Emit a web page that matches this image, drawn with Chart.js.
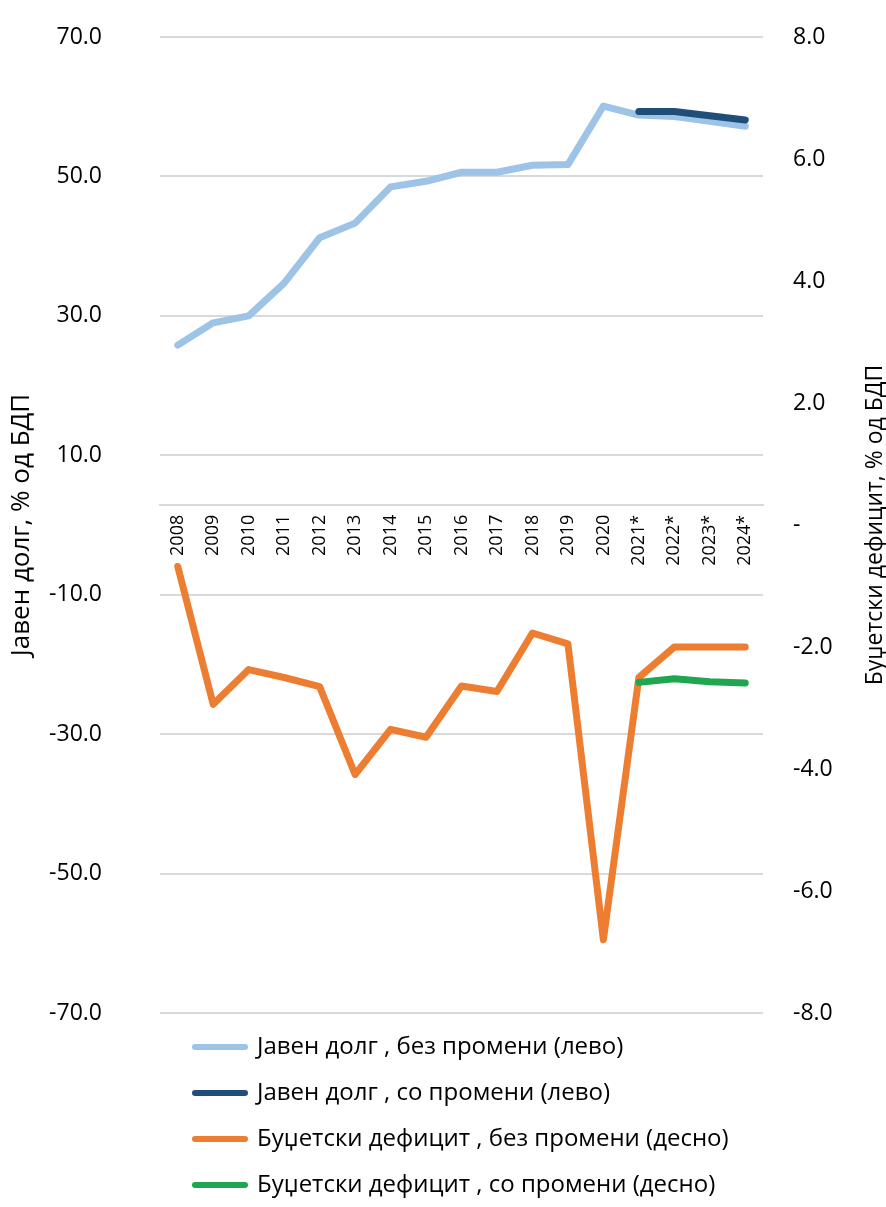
<!DOCTYPE html>
<html>
<head>
<meta charset="utf-8">
<script src="https://cdn.jsdelivr.net/npm/chart.js@4.4.1/dist/chart.umd.min.js"></script>
<style>
  html, body { margin: 0; padding: 0; background: #fff; }
  #wrap { width: 886px; height: 1207px; position: relative; }
</style>
</head>
<body>
<div id="wrap"><canvas id="debtChart"></canvas></div>
<script>
const years = ['2008', '2009', '2010', '2011', '2012', '2013', '2014', '2015', '2016',
  '2017', '2018', '2019', '2020', '2021*', '2022*', '2023*', '2024*'];

// public debt, % of GDP (left axis)
const debtNoChange = [25.8, 29.0, 30.0, 34.7, 41.2, 43.3, 48.5, 49.3, 50.6, 50.6, 51.6, 51.7, 60.1, 58.8, 58.6, 57.9, 57.2];
const debtWithChange = [null, null, null, null, null, null, null, null, null, null, null, null, null, 59.3, 59.3, 58.7, 58.1];

// budget deficit, % of GDP (right axis)
const deficitNoChange = [-0.68, -2.94, -2.37, -2.5, -2.65, -4.09, -3.35, -3.48, -2.64, -2.73, -1.77, -1.95, -6.8, -2.5, -2.0, -2.0, -2.0];
const deficitWithChange = [null, null, null, null, null, null, null, null, null, null, null, null, null, -2.58, -2.52, -2.57, -2.59];

const leftTicks = [-70, -50, -30, -10, 10, 30, 50, 70];
const rightTicks = [-8, -6, -4, -2, 0, 2, 4, 6, 8];

const FONT = "'Open Sans', 'Noto Sans', sans-serif";

// right axis title reads bottom-to-top like the left one
const rightTitle = {
  id: 'rightTitle',
  afterDraw(chart) {
    const ctx = chart.ctx;
    const area = chart.chartArea;
    ctx.save();
    ctx.translate(875, (area.top + area.bottom) / 2);
    ctx.rotate(-Math.PI / 2);
    ctx.font = '23px ' + FONT;
    ctx.fillStyle = '#000';
    ctx.textAlign = 'center';
    ctx.textBaseline = 'middle';
    ctx.fillText('Буџетски дефицит, % од БДП', 0, 0);
    ctx.restore();
  }
};

// nudge the legend a little to the right
const legendShift = {
  id: 'legendShift',
  afterLayout(chart) {
    chart.legend.left += 13;
    chart.legend.right += 13;
  }
};

// fixed axis width; the big label padding should not push the plot down
function fixAxis(width) {
  return (scale) => {
    scale.width = width;
    scale.paddingTop = 12;
    scale.paddingBottom = 12;
  };
}

const ctx = document.getElementById('debtChart').getContext('2d');
new Chart(ctx, {
  type: 'line',
  data: {
    labels: years,
    datasets: [
      {
        label: 'Јавен долг , без промени (лево)',
        data: debtNoChange,
        yAxisID: 'y',
        borderColor: '#9dc3e6',
        backgroundColor: '#9dc3e6',
        order: 4
      },
      {
        label: 'Јавен долг , со промени (лево)',
        data: debtWithChange,
        yAxisID: 'y',
        borderColor: '#1f4e79',
        backgroundColor: '#1f4e79',
        order: 3
      },
      {
        label: 'Буџетски дефицит , без промени (десно)',
        data: deficitNoChange,
        yAxisID: 'y1',
        borderColor: '#ed7d31',
        backgroundColor: '#ed7d31',
        order: 2
      },
      {
        label: 'Буџетски дефицит , со промени (десно)',
        data: deficitWithChange,
        yAxisID: 'y1',
        borderColor: '#1fa64f',
        backgroundColor: '#1fa64f',
        order: 1
      }
    ]
  },
  options: {
    responsive: true,
    maintainAspectRatio: false,
    animation: false,
    layout: { padding: { top: 37, left: 0, right: 0, bottom: 0 } },
    elements: {
      point: { radius: 0, hoverRadius: 0 },
      line: { borderWidth: 7, borderCapStyle: 'round', borderJoinStyle: 'round', tension: 0 }
    },
    plugins: {
      legend: {
        position: 'bottom',
        align: 'start',
        fullSize: false,
        labels: {
          usePointStyle: true,
          pointStyle: 'line',
          pointStyleWidth: 50,
          padding: 22,
          color: '#000',
          font: { family: FONT, size: 24 },
          sort: (a, b) => a.datasetIndex - b.datasetIndex,
          generateLabels: (chart) => {
            const items = Chart.defaults.plugins.legend.labels.generateLabels(chart);
            items.forEach(item => {
              item.lineWidth = 6;
              item.lineCap = 'round';
            });
            return items;
          }
        }
      },
      tooltip: { enabled: false }
    },
    scales: {
      x: {
        type: 'category',
        offset: true,
        position: { y: 2.9 },
        grid: { display: false, drawTicks: false },
        border: { display: true, color: '#d9d9d9', width: 2 },
        ticks: {
          autoSkip: false,
          maxRotation: 90,
          minRotation: 90,
          padding: 10,
          color: '#000',
          font: { family: FONT, size: 18 }
        }
      },
      y: {
        position: 'left',
        min: -70,
        max: 70,
        afterBuildTicks: (scale) => { scale.ticks = leftTicks.map(v => ({ value: v })); },
        afterFit: fixAxis(160),
        grid: { color: '#d9d9d9', lineWidth: 2, drawTicks: false },
        border: { display: false },
        title: {
          display: true,
          text: 'Јавен долг, % од БДП',
          color: '#000',
          font: { family: FONT, size: 26 },
          padding: { top: 6, bottom: 0 }
        },
        ticks: {
          padding: 58,
          color: '#000',
          font: { family: FONT, size: 23 },
          callback: (v) => v.toFixed(1)
        }
      },
      y1: {
        position: 'right',
        min: -8,
        max: 8,
        afterBuildTicks: (scale) => { scale.ticks = rightTicks.map(v => ({ value: v })); },
        afterFit: fixAxis(123),
        grid: { display: false, drawTicks: false },
        border: { display: false },
        ticks: {
          padding: 30,
          color: '#000',
          font: { family: FONT, size: 23 },
          callback: (v) => (v === 0 ? '-' : v.toFixed(1))
        }
      }
    }
  },
  plugins: [rightTitle, legendShift]
});
</script>
</body>
</html>
